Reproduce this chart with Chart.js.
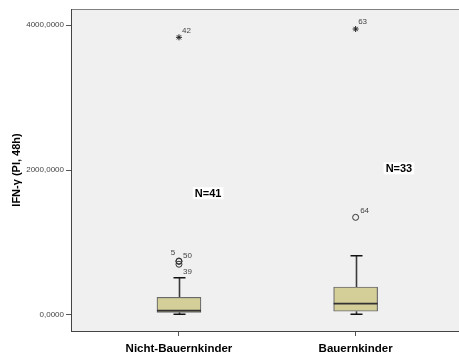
<!DOCTYPE html>
<html><head><meta charset="utf-8">
<script src="https://cdn.jsdelivr.net/npm/chart.js@4"></script>
<style>html,body{margin:0;padding:0;background:#fff;overflow:hidden}#wrap{width:459px;height:354px;position:relative;overflow:hidden}canvas{display:block}</style>
</head><body><div id="wrap"><canvas id="c"></canvas></div>
<script>
// ---- data ----
const categories = ['Nicht-Bauernkinder', 'Bauernkinder'];
const catPos = [1, 2];
const whiskerLow = [10, 10];
const q1 = [37, 51];
const median = [60, 156];
const q3 = [244, 386];
const whiskerHigh = [514, 818];
const nLabels = ['N=41', 'N=33'];
const nLabelPos = [{x: 1.165, y: 1680}, {x: 2.245, y: 2023}];
// outliers (circles) and extremes (stars)
const outlierGroup = [1, 1, 1, 2];
const outlierValue = [745, 738, 700, 1347];
const outlierId = ['5', '50', '39', '64'];
const extremeGroup = [1, 2];
const extremeValue = [3830, 3945];
const extremeId = ['42', '63'];
const yTickValues = [0, 2000, 4000];
const yTickLabels = ['0,0000', '2000,0000', '4000,0000'];
const yTitle = 'IFN-\u03b3 (PI, 48h)';

// ---- styles (label offsets in px) ----
const outlierLabelOffset = [[-6, -8, 'center'], [4, -5.5, 'left'], [4, 8, 'left'], [4.5, -7, 'left']];
const extremeLabelOffset = [[3, -6.5, 'left'], [2.5, -7, 'left']];

const boxPlugin = {
  id: 'boxExtras',
  beforeDraw(chart) {
    const {ctx, chartArea: a} = chart;
    ctx.save();
    ctx.fillStyle = '#f0f0f0';
    ctx.fillRect(a.left, a.top, a.right - a.left, a.bottom - a.top);
    ctx.strokeStyle = '#808080';
    ctx.lineWidth = 1;
    ctx.beginPath(); ctx.moveTo(a.left, a.top + 0.5); ctx.lineTo(a.right, a.top + 0.5); ctx.stroke();
    ctx.restore();
  },
  beforeDatasetsDraw(chart) {
    const {ctx} = chart;
    const xs = chart.scales.x, ys = chart.scales.y;
    ctx.save();
    for (let i = 0; i < catPos.length; i++) {
      const x = Math.round(xs.getPixelForValue(catPos[i])) + 0.5;
      ctx.strokeStyle = '#3a3a3a';
      ctx.lineWidth = 1.6;
      ctx.beginPath();
      ctx.moveTo(x, ys.getPixelForValue(q3[i])); ctx.lineTo(x, ys.getPixelForValue(whiskerHigh[i]));
      ctx.moveTo(x, ys.getPixelForValue(q1[i])); ctx.lineTo(x, ys.getPixelForValue(whiskerLow[i]));
      ctx.stroke();
      ctx.strokeStyle = '#111';
      ctx.beginPath();
      const yh = ys.getPixelForValue(whiskerHigh[i]), yl = ys.getPixelForValue(whiskerLow[i]);
      ctx.moveTo(x - 6, yh); ctx.lineTo(x + 6, yh);
      ctx.moveTo(x - 6, yl); ctx.lineTo(x + 6, yl);
      ctx.stroke();
    }
    ctx.restore();
  },
  afterDatasetsDraw(chart) {
    const {ctx} = chart;
    const xs = chart.scales.x, ys = chart.scales.y;
    ctx.save();
    // medians
    for (let i = 0; i < catPos.length; i++) {
      const x = xs.getPixelForValue(catPos[i]);
      const y = ys.getPixelForValue(median[i]);
      ctx.strokeStyle = '#333';
      ctx.lineWidth = 1.6;
      ctx.beginPath(); ctx.moveTo(x - 22, y); ctx.lineTo(x + 22, y); ctx.stroke();
    }
    // outlier labels
    ctx.font = '8px "Liberation Sans", Arial, sans-serif';
    ctx.fillStyle = '#444';
    ctx.textBaseline = 'middle';
    for (let i = 0; i < outlierId.length; i++) {
      const x = xs.getPixelForValue(outlierGroup[i]), y = ys.getPixelForValue(outlierValue[i]);
      const o = outlierLabelOffset[i];
      ctx.textAlign = o[2];
      ctx.fillText(outlierId[i], x + o[0], y + o[1]);
    }
    for (let i = 0; i < extremeId.length; i++) {
      const x = xs.getPixelForValue(extremeGroup[i]), y = ys.getPixelForValue(extremeValue[i]);
      const o = extremeLabelOffset[i];
      ctx.textAlign = o[2];
      ctx.fillText(extremeId[i], x + o[0], y + o[1]);
    }
    // N labels
    ctx.font = 'bold 11px "Liberation Sans", Arial, sans-serif';
    ctx.textAlign = 'center';
    for (let i = 0; i < nLabels.length; i++) {
      const x = xs.getPixelForValue(nLabelPos[i].x), y = ys.getPixelForValue(nLabelPos[i].y);
      const w = ctx.measureText(nLabels[i]).width + 4;
      ctx.fillStyle = '#fff';
      ctx.fillRect(x - w / 2, y - 6, w, 12);
      ctx.fillStyle = '#000';
      ctx.fillText(nLabels[i], x, y + 0.5);
    }
    ctx.restore();
  }
};

new Chart(document.getElementById('c'), {
  type: 'bar',
  data: {
    datasets: [
      {
        type: 'bar',
        data: catPos.map((p, i) => ({x: p, y: [q1[i], q3[i]]})),
        backgroundColor: '#d4cf98',
        borderColor: '#6a6a6a',
        borderWidth: 1.2,
        borderSkipped: false,
        barThickness: 44,
        order: 2
      },
      {
        type: 'scatter',
        data: outlierValue.map((v, i) => ({x: outlierGroup[i], y: v})),
        pointStyle: 'circle',
        pointRadius: 3,
        backgroundColor: 'rgba(0,0,0,0)',
        borderColor: '#333',
        borderWidth: 1,
        order: 1
      },
      {
        type: 'scatter',
        data: extremeValue.map((v, i) => ({x: extremeGroup[i], y: v})),
        pointStyle: 'star',
        pointRadius: 3,
        backgroundColor: '#222',
        borderColor: '#222',
        borderWidth: 1,
        order: 1
      }
    ]
  },
  options: {
    responsive: true,
    maintainAspectRatio: false,
    animation: false,
    layout: {autoPadding: false, padding: {top: 9, right: 0, left: 0, bottom: 0}},
    plugins: {legend: {display: false}, tooltip: {enabled: false}},
    scales: {
      x: {
        type: 'linear',
        min: 0.389,
        max: 2.585,
        offset: false,
        afterFit(s) { s.height = 23; s.paddingLeft = 0; s.paddingRight = 0; },
        afterBuildTicks(s) { s.ticks = catPos.map(v => ({value: v})); },
        grid: {drawOnChartArea: false, drawTicks: true, tickLength: 5, color: '#555', offset: false},
        border: {color: '#444', width: 1},
        ticks: {
          autoSkip: false,
          maxRotation: 0,
          padding: 6,
          color: '#000',
          font: {family: '"Liberation Sans", Arial, sans-serif', size: 11.5, weight: 'bold'},
          callback(v) { const i = catPos.indexOf(v); return i >= 0 ? categories[i] : ''; }
        }
      },
      y: {
        type: 'linear',
        min: -221,
        max: 4221,
        afterFit(s) { s.width = 71; },
        afterBuildTicks(s) { s.ticks = yTickValues.map(v => ({value: v})); },
        grid: {drawOnChartArea: false, drawTicks: true, tickLength: 5, color: '#555'},
        border: {color: '#444', width: 1},
        ticks: {
          padding: 2,
          color: '#444',
          font: {family: '"Liberation Sans", Arial, sans-serif', size: 8},
          callback(v) { const i = yTickValues.indexOf(v); return i >= 0 ? yTickLabels[i] : ''; }
        },
        title: {
          display: true,
          text: yTitle,
          color: '#000',
          font: {family: '"Liberation Sans", Arial, sans-serif', size: 11, weight: 'bold'},
          padding: {top: 10, bottom: 0}
        }
      }
    }
  },
  plugins: [boxPlugin]
});
</script>
</body></html>
